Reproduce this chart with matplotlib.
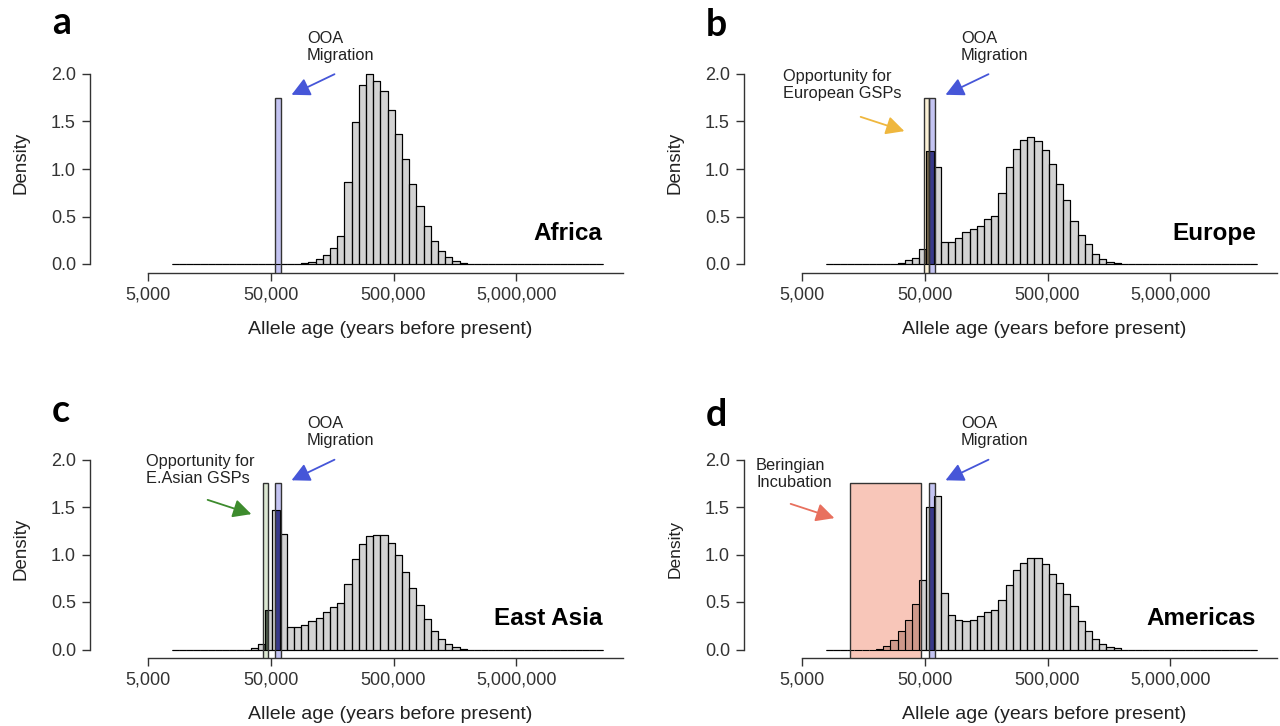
import numpy as np
import matplotlib.pyplot as plt
from matplotlib.patches import FancyArrowPatch

plt.rcParams['font.family'] = ['Liberation Sans', 'DejaVu Sans']

W, H = 1280, 726

# histogram grid, log10(years before present)
bin_start = 3.892
bin_width = 0.0586
n_bins = 60

# densities of the non-empty bins, and the index of the first one
africa_first = 18
africa = [0.01, 0.02, 0.05, 0.09, 0.17, 0.29, 0.86, 1.49, 1.88, 2.0, 1.93, 1.82,
          1.62, 1.37, 1.10, 0.84, 0.61, 0.40, 0.24, 0.14, 0.07, 0.035, 0.015]
europe_first = 10
europe = [0.01, 0.04, 0.06, 0.16, 1.19, 1.02, 0.23, 0.23, 0.27, 0.335, 0.37, 0.40,
          0.47, 0.51, 0.75, 1.02, 1.21, 1.31, 1.34, 1.29, 1.20, 1.05, 0.84, 0.67,
          0.45, 0.31, 0.21, 0.11, 0.05, 0.02, 0.01]
easia_first = 11
easia = [0.02, 0.06, 0.42, 1.47, 1.22, 0.24, 0.24, 0.26, 0.305, 0.33, 0.39, 0.445,
         0.49, 0.69, 0.95, 1.11, 1.19, 1.21, 1.21, 1.12, 0.99, 0.82, 0.65, 0.47,
         0.32, 0.20, 0.11, 0.056, 0.028, 0.01]
americas_first = 7
americas = [0.007, 0.04, 0.10, 0.195, 0.31, 0.48, 0.73, 1.495, 1.62, 0.59, 0.36,
            0.31, 0.295, 0.31, 0.35, 0.39, 0.42, 0.52, 0.68, 0.835, 0.91, 0.96,
            0.96, 0.905, 0.79, 0.70, 0.585, 0.455, 0.295, 0.19, 0.11, 0.06, 0.03,
            0.012]

# shaded periods (years before present)
ooa = (54000, 60500)
eur_gsp = (49000, 54000)
eas_gsp = (43500, 47800)
beringia = (12300, 46500)
rect_top = 1.75

xticks = [5000, 50000, 500000, 5000000]
xtick_labels = ['5,000', '50,000', '500,000', '5,000,000']
yticks = [0, 0.5, 1.0, 1.5, 2.0]

edges = 10 ** (bin_start + bin_width * np.arange(n_bins + 1))

# face, overlap, arrow colours
ooa_col = ('#c4c4f2', '#38398a', '#4656d8')
eur_col = ('#fbf1d6', '#76664a', '#efb73e')
eas_col = ('#dbe7d1', '#4a5846', '#3d8b2d')
ber_col = ('#f8c6b9', '#cf998b', '#e8705e')

fig = plt.figure(figsize=(W / 100, H / 100), dpi=100)


def fx(x):
    return x / W


def fy(y):
    return 1 - y / H


def full(first, vals):
    h = np.zeros(n_bins)
    h[first:first + len(vals)] = vals
    return h


def draw_rect(ax, span, cols, heights):
    x0, x1 = span
    y0 = ax.get_ylim()[0]
    ax.bar(x0, rect_top - y0, width=x1 - x0, bottom=y0, align='edge',
           color=cols[0], linewidth=0, zorder=3)
    for lo, hi, h in zip(edges[:-1], edges[1:], heights):
        a, b = max(lo, x0), min(hi, x1)
        if b > a and h > 0:
            ax.bar(a, min(h, rect_top), width=b - a, align='edge',
                   color=cols[1], linewidth=0, zorder=3.5)
    ax.bar(x0, rect_top - y0, width=x1 - x0, bottom=y0, align='edge',
           fill=False, edgecolor='#333333', linewidth=1.0, zorder=5)


def arrow(p0, p1, color):
    a = FancyArrowPatch((fx(p0[0]), fy(p0[1])), (fx(p1[0]), fy(p1[1])),
                        transform=fig.transFigure,
                        arrowstyle='-|>,head_length=0.65,head_width=0.33',
                        mutation_scale=17, lw=1.3, color=color)
    fig.add_artist(a)


def note(x, y, s):
    fig.text(fx(x), fy(y), s, ha='left', va='top', fontsize=11.8,
             color='#222222', linespacing=1.15)


panels = [
    dict(letter='a', name='Africa', h=full(africa_first, africa), dx=0, dy=0,
         rects=[(ooa, ooa_col)]),
    dict(letter='b', name='Europe', h=full(europe_first, europe), dx=654, dy=0,
         rects=[(eur_gsp, eur_col), (ooa, ooa_col)]),
    dict(letter='c', name='East Asia', h=full(easia_first, easia), dx=0, dy=385.5,
         rects=[(eas_gsp, eas_col), (ooa, ooa_col)]),
    dict(letter='d', name='Americas', h=full(americas_first, americas), dx=654, dy=385.5,
         rects=[(beringia, ber_col), (ooa, ooa_col)]),
]
letter_base = [34, 36, 422, 426]

for i, p in enumerate(panels):
    dx, dy = p['dx'], p['dy']
    left, right, top, bottom = 90 + dx, 622.7 + dx, 66.4 + dy, 272.55 + dy
    ax = fig.add_axes([fx(left), fy(bottom), (right - left) / W, (bottom - top) / H])
    ax.set_xscale('log')
    ax.set_xlim(10 ** 3.227, 10 ** 7.565)
    ax.set_ylim(-0.09, 2.08)

    heights = p['h']
    ax.bar(edges[:-1], heights, width=np.diff(edges), align='edge',
           color='#d3d3d3', edgecolor='black', linewidth=0.8, zorder=2)
    for span, cols in p['rects']:
        draw_rect(ax, span, cols, heights)
    ax.bar(edges[:-1], heights, width=np.diff(edges), align='edge',
           fill=False, edgecolor='black', linewidth=0.8, zorder=4)

    for s in ['top', 'right']:
        ax.spines[s].set_visible(False)
    for s in ['left', 'bottom']:
        ax.spines[s].set_color('#333333')
        ax.spines[s].set_linewidth(1.0)
    ax.spines['left'].set_bounds(0, 2)
    ax.spines['bottom'].set_bounds(5000, 10 ** 7.565)
    ax.set_xticks(xticks)
    ax.set_xticklabels(xtick_labels)
    ax.xaxis.set_minor_locator(plt.NullLocator())
    ax.set_yticks(yticks)
    ax.set_yticklabels(['%.1f' % v for v in yticks])
    ax.tick_params(axis='both', direction='out', colors='#333333',
                   labelcolor='#333333', labelsize=13, width=1.0)
    ax.tick_params(axis='y', length=5.8, pad=4.3)
    ax.tick_params(axis='x', length=5.4, pad=4.5)

    fig.text(fx(21 + dx), fy(163 + dy), 'Density', rotation=90, ha='center',
             va='center', fontsize=13.5 if i < 3 else 12.5, color='#222222')
    fig.text(fx(390 + dx), fy(329 + dy), 'Allele age (years before present)',
             ha='center', va='center', fontsize=14, color='#222222')
    fig.text(fx(602 + dx), fy(233 + dy), p['name'], ha='right', va='center',
             fontsize=17.5, fontweight='bold', color='black')
    fig.text(fx(52 + dx), fy(letter_base[i]), p['letter'], ha='left',
             va='baseline', fontsize=27, fontweight='bold', family='Lato')

    note(307 + dx, 31 + dy, 'OOA\nMigration')
    arrow((337 + dx, 73 + dy), (289 + dx, 96 + dy), ooa_col[2])

note(783, 69, 'Opportunity for\nEuropean GSPs')
arrow((858, 116), (907, 132), eur_col[2])
note(146, 454, 'Opportunity for\nE.Asian GSPs')
arrow((205, 499), (254, 515), eas_col[2])
note(756, 458, 'Beringian\nIncubation')
arrow((788, 503), (837, 519), ber_col[2])

fig.savefig('out.png', dpi=100)
